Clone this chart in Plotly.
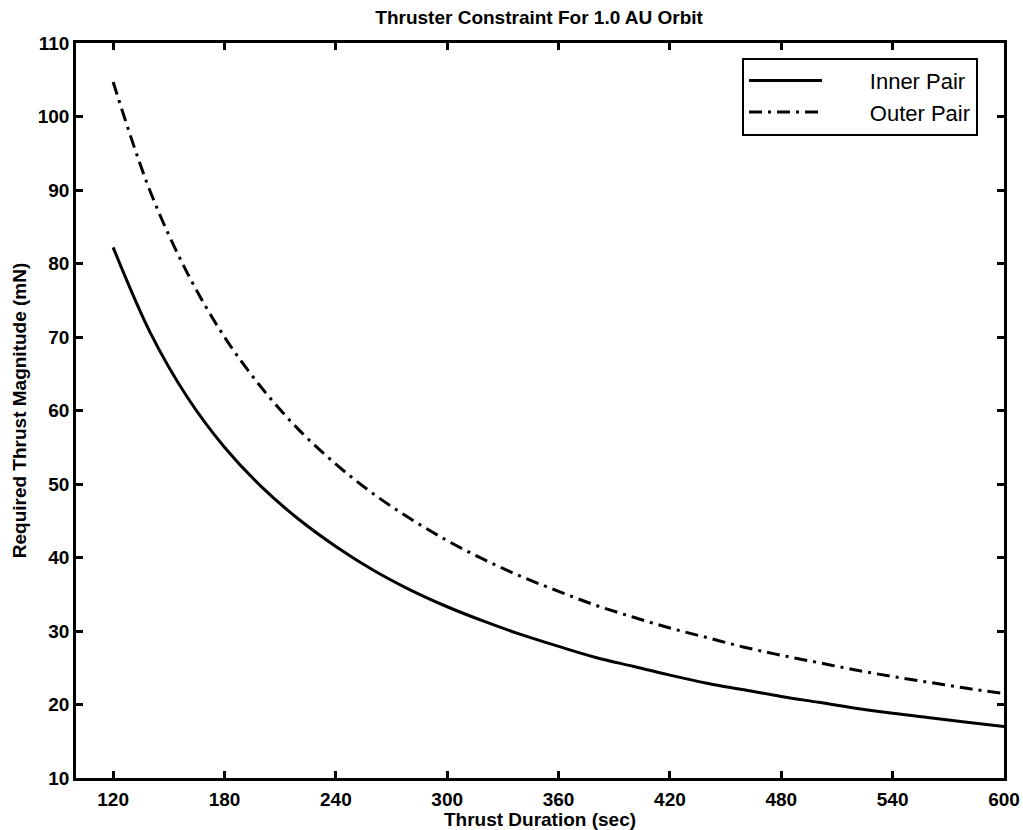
import plotly.graph_objects as go

duration = [120, 140, 160, 180, 200, 220, 240, 260, 280, 300, 320, 340, 360,
            380, 400, 420, 440, 460, 480, 500, 520, 540, 560, 580, 600]
inner_pair = [82.2, 70.6, 61.8, 55.0, 49.6, 45.2, 41.5, 38.3, 35.6, 33.3, 31.3, 29.5, 27.9,
              26.4, 25.2, 24.0, 22.9, 22.0, 21.1, 20.3, 19.5, 18.8, 18.2, 17.6, 17.0]
outer_pair = [104.7, 89.8, 78.7, 70.0, 63.1, 57.4, 52.7, 48.7, 45.3, 42.3, 39.7, 37.4, 35.4,
              33.5, 31.9, 30.4, 29.1, 27.8, 26.7, 25.7, 24.7, 23.8, 23.0, 22.2, 21.5]
series_names = ["Inner Pair", "Outer Pair"]
x_ticks = [120, 180, 240, 300, 360, 420, 480, 540, 600]
y_ticks = [10, 20, 30, 40, 50, 60, 70, 80, 90, 100, 110]

pad = "\u00a0" * 7  # gap between legend line sample and label, as in the original

fig = go.Figure()
fig.add_trace(go.Scatter(x=duration, y=inner_pair, mode="lines", name=pad + series_names[0],
                         line=dict(color="black", width=3, shape="spline")))
fig.add_trace(go.Scatter(x=duration, y=outer_pair, mode="lines", name=pad + series_names[1],
                         line=dict(color="black", width=3, shape="spline",
                                   dash="13px,6px,3px,6px")))

font = "Liberation Sans, Arial, sans-serif"
axis_common = dict(showgrid=False, zeroline=False, showline=True, linecolor="black",
                   linewidth=2.5, mirror="ticks", ticks="inside", ticklen=7,
                   tickwidth=2.5, tickcolor="black", automargin=False,
                   tickfont=dict(family=font, size=19, color="black", weight="bold"))

fig.update_layout(
    width=1023, height=830,
    margin=dict(l=76, r=19, t=43, b=52),
    paper_bgcolor="white", plot_bgcolor="white",
    title=dict(text="Thruster Constraint For 1.0 AU Orbit", x=0.527, xanchor="center",
               y=0.979, yanchor="middle",
               font=dict(family=font, size=19, color="black", weight="bold")),
    xaxis=dict(range=[100, 600], tickvals=x_ticks, ticklabelstandoff=2,
               title=dict(text="Thrust Duration (sec)", standoff=1,
                          font=dict(family=font, size=19, color="black", weight="bold")),
               **axis_common),
    yaxis=dict(range=[10, 110], tickvals=y_ticks,
               title=dict(text="Required Thrust Magnitude (mN)", standoff=7,
                          font=dict(family=font, size=19, color="black", weight="bold")),
               **axis_common),
    legend=dict(x=0.972, y=0.98, xanchor="right", yanchor="top",
                bordercolor="black", borderwidth=2, bgcolor="white",
                itemwidth=73, tracegroupgap=0,
                font=dict(family=font, size=22, color="black")),
    showlegend=True,
)

fig.write_html("out.html")
